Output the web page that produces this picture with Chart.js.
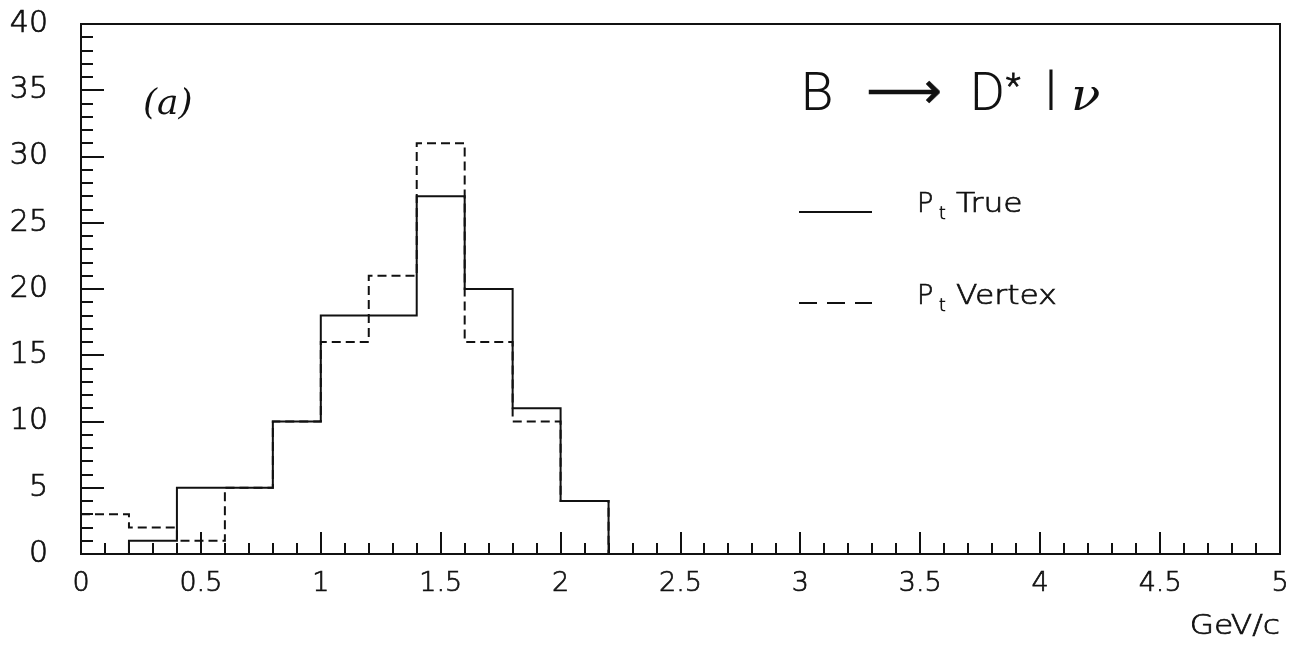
<!DOCTYPE html>
<html>
<head>
<meta charset="utf-8">
<script src="https://cdn.jsdelivr.net/npm/chart.js@4/dist/chart.umd.min.js"></script>
<style>
  html, body { margin: 0; padding: 0; background: #fff; }
  #wrap { width: 1293px; height: 646px; position: relative; }
</style>
</head>
<body>
<div id="wrap"><canvas id="myChart" width="1293" height="646"></canvas></div>
<script>
// histogram bins (lower edges, GeV/c) and counts
const binEdges = [0, 0.2, 0.4, 0.6, 0.8, 1.0, 1.2, 1.4, 1.6, 1.8, 2.0, 2.2, 2.4,
                  2.6, 2.8, 3.0, 3.2, 3.4, 3.6, 3.8, 4.0, 4.2, 4.4, 4.6, 4.8];
const ptTrue   = [0, 1, 5, 5, 10, 18, 18, 27, 20, 11, 4, 0, 0, 0, 0, 0, 0, 0, 0, 0, 0, 0, 0, 0, 0];
const ptVertex = [3, 2, 1, 5, 10, 16, 21, 31, 16, 10, 4, 0, 0, 0, 0, 0, 0, 0, 0, 0, 0, 0, 0, 0, 0];
const xRange = [0, 5];
const yRange = [0, 40];
const xTickStep = 0.5;
const yTickStep = 5;

const INK = '#111';
const FONT = '"DejaVu Sans", "Liberation Sans", sans-serif';
const THIN = 'Roboto, "Liberation Sans", sans-serif';

// stepped line needs one more point at the right edge
function toSteps(counts) {
    const pts = binEdges.map((x, i) => ({ x: x, y: counts[i] }));
    pts.push({ x: xRange[1], y: counts[counts.length - 1] });
    return pts;
}

// keep the chart area exactly where the layout puts it
function noScalePadding(scale) {
    scale.paddingTop = 0;
    scale.paddingBottom = 0;
    scale.paddingLeft = 0;
    scale.paddingRight = 0;
}

// text drawn a bit wider (and optionally heavier), like the original lettering
function wideText(ctx, txt, x, y, sx, sw) {
    ctx.save();
    ctx.translate(x, y);
    ctx.scale(sx, 1);
    ctx.fillText(txt, 0, 0);
    if (sw) {
        ctx.lineWidth = sw;
        ctx.strokeText(txt, 0, 0);
    }
    ctx.restore();
}

// inward tick marks, frame, title, legend and labels
const decorations = {
    id: 'decorations',
    afterDraw(chart) {
        const ctx = chart.ctx;
        const xs = chart.scales.x;
        const ys = chart.scales.y;
        const area = chart.chartArea;
        ctx.save();
        ctx.strokeStyle = INK;
        ctx.lineWidth = 2;

        // frame top + right
        ctx.beginPath();
        ctx.moveTo(area.left, area.top);
        ctx.lineTo(area.right, area.top);
        ctx.lineTo(area.right, area.bottom);
        ctx.stroke();

        // y ticks, 1 unit minor, 5 major
        for (let v = yRange[0]; v <= yRange[1]; v++) {
            const py = Math.round(ys.getPixelForValue(v));
            const len = (v % yTickStep === 0) ? 23 : 12;
            ctx.beginPath();
            ctx.moveTo(area.left, py);
            ctx.lineTo(area.left + len, py);
            ctx.stroke();
        }
        // x ticks, 0.1 minor, 0.5 major
        for (let k = 0; k <= 50; k++) {
            const v = k / 10;
            const px = Math.round(xs.getPixelForValue(v));
            const len = (k % 5 === 0) ? 22 : 11;
            ctx.beginPath();
            ctx.moveTo(px, area.bottom);
            ctx.lineTo(px, area.bottom - len);
            ctx.stroke();
        }

        ctx.fillStyle = INK;
        ctx.textBaseline = 'alphabetic';
        ctx.textAlign = 'left';

        // axis unit
        ctx.font = '200 27px ' + FONT;
        const unitW = ctx.measureText('GeV/c').width * 1.16;
        wideText(ctx, 'GeV/c', area.right - unitW, 634, 1.16, 0.7);

        // title  B -> D* l nu
        ctx.font = '300 53px ' + THIN;
        wideText(ctx, 'B', 801, 110, 1);
        ctx.font = '200 52px "DejaVu Sans", sans-serif';
        wideText(ctx, '\u27F6', 866, 108, 1.02, 0.5);
        ctx.font = '300 53px ' + THIN;
        wideText(ctx, 'D', 970, 110, 1);
        ctx.font = '300 34px ' + THIN;
        wideText(ctx, '*', 1006, 97, 1, 0.8);
        ctx.font = '300 53px ' + THIN;
        wideText(ctx, 'l', 1045, 110, 1);
        ctx.font = 'italic 44px "DejaVu Serif", serif';
        wideText(ctx, '\u03BD', 1071, 110, 1.1);

        // legend
        ctx.lineWidth = 2;
        ctx.beginPath();
        ctx.moveTo(799, 212);
        ctx.lineTo(872, 212);
        ctx.stroke();
        ctx.setLineDash([18, 10]);
        ctx.beginPath();
        ctx.moveTo(799, 303);
        ctx.lineTo(872, 303);
        ctx.stroke();
        ctx.setLineDash([]);

        const legendRows = [['True', 212], ['Vertex', 304]];
        legendRows.forEach(([name, base]) => {
            ctx.font = '200 27px ' + FONT;
            wideText(ctx, 'P', 917, base, 1.0, 0.7);
            ctx.font = '200 17px ' + FONT;
            wideText(ctx, 't', 939, base + 7, 1.0, 0.7);
            ctx.font = '200 27px ' + FONT;
            wideText(ctx, name, 956, base, 1.16, 0.7);
        });

        // panel mark
        ctx.font = 'italic 36px "DejaVu Serif", serif';
        ctx.fillText('(a)', 143, 114);

        ctx.restore();
    }
};

const config = {
    type: 'line',
    data: {
        datasets: [
            {
                label: 'Pt True',
                data: toSteps(ptTrue),
                stepped: 'before',
                borderColor: INK,
                borderWidth: 2,
                pointRadius: 0,
                fill: false
            },
            {
                label: 'Pt Vertex',
                data: toSteps(ptVertex),
                stepped: 'before',
                borderColor: INK,
                borderWidth: 2,
                borderDash: [9, 5],
                pointRadius: 0,
                fill: false
            }
        ]
    },
    options: {
        responsive: false,
        animation: false,
        devicePixelRatio: 1,
        layout: { padding: { top: 24, right: 13, left: 0, bottom: 0 } },
        plugins: {
            legend: { display: false },
            tooltip: { enabled: false }
        },
        scales: {
            x: {
                type: 'linear',
                min: xRange[0],
                max: xRange[1],
                grid: { display: false, drawTicks: false, tickLength: 0 },
                border: { display: true, color: INK, width: 2 },
                ticks: {
                    stepSize: xTickStep,
                    color: INK,
                    textStrokeColor: INK,
                    textStrokeWidth: 0.7,
                    padding: 14,
                    maxRotation: 0,
                    font: { family: FONT, size: 27, weight: 200 },
                    callback: (v) => String(+Number(v).toFixed(1))
                },
                afterFit: (scale) => { scale.height = 92; noScalePadding(scale); }
            },
            y: {
                min: yRange[0],
                max: yRange[1],
                grid: { display: false, drawTicks: false, tickLength: 0 },
                border: { display: true, color: INK, width: 2 },
                ticks: {
                    stepSize: yTickStep,
                    color: INK,
                    textStrokeColor: INK,
                    textStrokeWidth: 0.7,
                    padding: 33,
                    font: { family: FONT, size: 30, weight: 200 }
                },
                afterFit: (scale) => { scale.width = 81; noScalePadding(scale); }
            }
        }
    },
    plugins: [decorations]
};

const myChart = new Chart(document.getElementById('myChart'), config);
</script>
</body>
</html>
